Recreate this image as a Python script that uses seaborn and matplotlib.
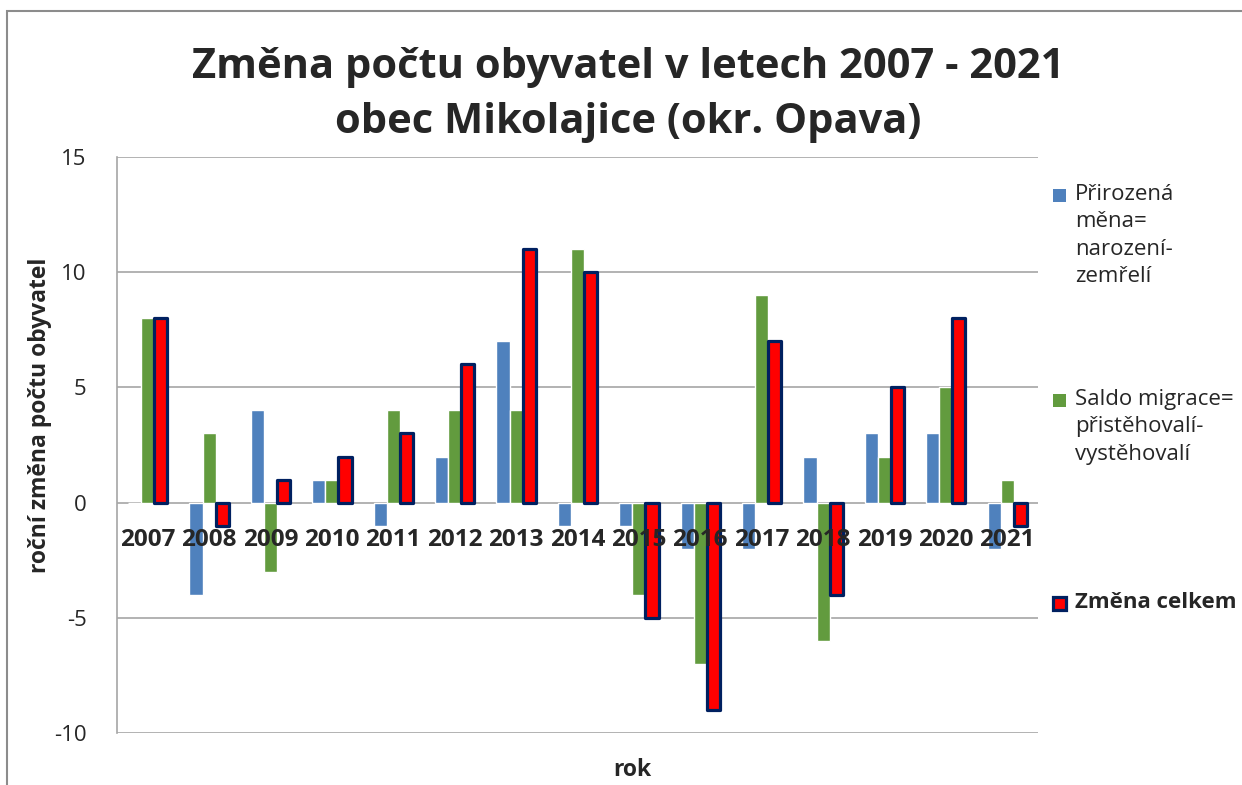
import matplotlib
matplotlib.use("Agg")
import matplotlib.pyplot as plt
import matplotlib.patches as mpatches
import pandas as pd
import seaborn as sns

years = [str(y) for y in range(2007, 2022)]
prirozena = [0, -4, 4, 1, -1, 2, 7, -1, -1, -2, -2, 2, 3, 3, -2]
migrace = [8, 3, -3, 1, 4, 4, 4, 11, -4, -7, 9, -6, 2, 5, 1]
celkem = [8, -1, 1, 2, 3, 6, 11, 10, -5, -9, 7, -4, 5, 8, -1]
y_ticks = [-10, -5, 0, 5, 10, 15]

series_names = ["Přirozená měna= narození-zemřelí",
                "Saldo migrace= přistěhovalí-vystěhovalí",
                "Změna celkem"]
legend_labels = ["Přirozená\nměna=\nnarození-\nzemřelí",
                 "Saldo migrace=\npřistěhovalí-\nvystěhovalí",
                 "Změna celkem"]
colors = ["#4F81BD", "#629B3E", "#FF0000"]

df = pd.DataFrame({
    "rok": years * 3,
    "hodnota": prirozena + migrace + celkem,
    "rada": [series_names[0]] * 15 + [series_names[1]] * 15 + [series_names[2]] * 15,
})

sns.set_style("white")
plt.rcParams["font.family"] = ["Open Sans", "DejaVu Sans"]
plt.rcParams["axes.unicode_minus"] = False

fig = plt.figure(figsize=(12.42, 7.85), dpi=100)
ax = fig.add_axes([0.0942, 0.0662, 0.7415, 0.7338])

sns.barplot(data=df, x="rok", y="hodnota", hue="rada", palette=colors,
            width=0.64, saturation=1, legend=False, ax=ax)

# total change bars get a navy outline
for bar in ax.containers[2]:
    bar.set_edgecolor("#002060")
    bar.set_linewidth(2.3)
    bar.set_joinstyle("round")

ax.set_ylim(-10, 15)
ax.set_xlim(-0.5, 14.5)
ax.set_yticks(y_ticks)
# gridlines behind bars, tick labels in front of them
for t in y_ticks:
    ax.axhline(t, color="#A6A6A6", linewidth=1.2, zorder=0)
ax.set_axisbelow(False)

for s in ["top", "right"]:
    ax.spines[s].set_visible(False)
ax.spines["left"].set_color("#A6A6A6")
ax.spines["left"].set_linewidth(1.2)
ax.spines["left"].set_zorder(0)
ax.spines["bottom"].set_position(("data", 0))
ax.spines["bottom"].set_visible(False)

ax.tick_params(axis="x", length=0, pad=18, labelsize=17.5)
ax.tick_params(axis="y", length=0, pad=22, labelsize=16)
for lbl in ax.get_xticklabels():
    lbl.set_fontweight("bold")

ax.set_xlabel("")
ax.set_ylabel("")
fig.text(0.0322, 0.471, "roční změna počtu obyvatel", rotation=90,
         ha="center", va="center", fontsize=16.5, fontweight="bold")
fig.text(0.509, 0.019, "rok", ha="center", va="center",
         fontsize=16.5, fontweight="bold")

fig.text(0.506, 0.879, "Změna počtu obyvatel v letech 2007 - 2021\nobec Mikolajice (okr. Opava)",
         ha="center", va="center", fontsize=30, fontweight="bold", linespacing=1.45)

# legend on the right
leg_y = [0.751, 0.490, 0.232]
for lab, col, yy in zip(legend_labels, colors, leg_y):
    if col == "#FF0000":
        fig.patches.append(mpatches.Rectangle((0.8475, yy - 0.0095), 0.0105, 0.0175,
                                              transform=fig.transFigure, facecolor=col,
                                              edgecolor="#002060", linewidth=2.3))
        fig.text(0.8655, yy, lab, ha="left", va="center", fontsize=16,
                 fontweight="bold")
    else:
        fig.patches.append(mpatches.Rectangle((0.8475, yy - 0.0085), 0.0105, 0.0165,
                                              transform=fig.transFigure, facecolor=col,
                                              edgecolor="none"))
        fig.text(0.8655, yy + 0.0145, lab, ha="left", va="top", fontsize=16,
                 color="#262626", linespacing=1.4)

# chart frame
fig.patches.append(mpatches.Rectangle((0.0056, -0.1), 1.2, 1.086, transform=fig.transFigure,
                                      facecolor="none", edgecolor="#8C8C8C", linewidth=1.5))

fig.savefig("out.png", dpi=100)
